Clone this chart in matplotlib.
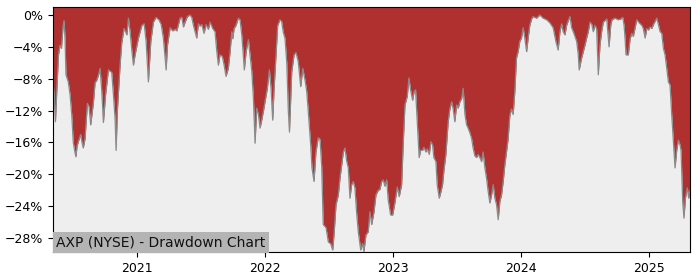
import numpy as np
import pandas as pd
import matplotlib
matplotlib.use("Agg")
import matplotlib.pyplot as plt
import matplotlib.dates as mdates
from matplotlib.ticker import FuncFormatter, MultipleLocator

title = "AXP (NYSE) - Drawdown Chart"

# decimal-year time stamps
t_years = [
 2020.344, 2020.352, 2020.363, 2020.375, 2020.387, 2020.398, 2020.410, 2020.422, 2020.430, 2020.438,
 2020.445, 2020.463, 2020.477, 2020.490, 2020.502, 2020.516, 2020.523, 2020.531, 2020.541, 2020.560,
 2020.570, 2020.580, 2020.594, 2020.612, 2020.625, 2020.638, 2020.659, 2020.672, 2020.685, 2020.699,
 2020.711, 2020.724, 2020.737, 2020.754, 2020.776, 2020.802, 2020.815, 2020.828, 2020.836, 2020.846,
 2020.867, 2020.880, 2020.898, 2020.920, 2020.932, 2020.945, 2020.959, 2020.971, 2020.984, 2021.010,
 2021.037, 2021.055, 2021.070, 2021.088, 2021.107, 2021.127, 2021.148, 2021.170, 2021.188, 2021.205,
 2021.227, 2021.237, 2021.258, 2021.279, 2021.297, 2021.310, 2021.323, 2021.336, 2021.349, 2021.362,
 2021.375, 2021.393, 2021.414, 2021.427, 2021.440, 2021.453, 2021.466, 2021.479, 2021.492, 2021.505,
 2021.523, 2021.539, 2021.557, 2021.570, 2021.591, 2021.609, 2021.623, 2021.635, 2021.648, 2021.666,
 2021.680, 2021.695, 2021.713, 2021.727, 2021.740, 2021.748, 2021.758, 2021.773, 2021.791, 2021.805,
 2021.818, 2021.830, 2021.838, 2021.852, 2021.870, 2021.883, 2021.896, 2021.909, 2021.922, 2021.935,
 2021.948, 2021.961, 2021.974, 2021.987, 2022.000, 2022.018, 2022.034, 2022.047, 2022.060, 2022.070,
 2022.086, 2022.099, 2022.117, 2022.130, 2022.143, 2022.156, 2022.170, 2022.182, 2022.191, 2022.209,
 2022.227, 2022.242, 2022.260, 2022.279, 2022.295, 2022.313, 2022.326, 2022.338, 2022.357, 2022.367,
 2022.383, 2022.398, 2022.416, 2022.430, 2022.443, 2022.455, 2022.477, 2022.495, 2022.513, 2022.529,
 2022.541, 2022.555, 2022.573, 2022.586, 2022.599, 2022.612, 2022.625, 2022.638, 2022.651, 2022.664,
 2022.677, 2022.690, 2022.703, 2022.716, 2022.729, 2022.748, 2022.763, 2022.773, 2022.789, 2022.807,
 2022.820, 2022.834, 2022.852, 2022.867, 2022.885, 2022.898, 2022.912, 2022.924, 2022.938, 2022.951,
 2022.963, 2022.982, 2022.998, 2023.016, 2023.034, 2023.049, 2023.068, 2023.080, 2023.094, 2023.112,
 2023.125, 2023.138, 2023.154, 2023.166, 2023.177, 2023.190, 2023.205, 2023.216, 2023.232, 2023.242,
 2023.258, 2023.268, 2023.284, 2023.297, 2023.310, 2023.320, 2023.336, 2023.346, 2023.362, 2023.375,
 2023.388, 2023.398, 2023.414, 2023.432, 2023.445, 2023.459, 2023.471, 2023.484, 2023.498, 2023.510,
 2023.523, 2023.537, 2023.549, 2023.563, 2023.576, 2023.588, 2023.602, 2023.615, 2023.627, 2023.641,
 2023.654, 2023.666, 2023.680, 2023.693, 2023.705, 2023.719, 2023.732, 2023.745, 2023.758, 2023.771,
 2023.784, 2023.797, 2023.810, 2023.823, 2023.836, 2023.849, 2023.862, 2023.875, 2023.888, 2023.901,
 2023.914, 2023.927, 2023.940, 2023.953, 2023.966, 2023.979, 2023.992, 2024.005, 2024.018, 2024.031,
 2024.045, 2024.057, 2024.070, 2024.084, 2024.096, 2024.123, 2024.148, 2024.174, 2024.201, 2024.227,
 2024.252, 2024.273, 2024.291, 2024.305, 2024.318, 2024.330, 2024.344, 2024.357, 2024.370, 2024.383,
 2024.396, 2024.409, 2024.422, 2024.435, 2024.448, 2024.455, 2024.474, 2024.487, 2024.500, 2024.513,
 2024.526, 2024.539, 2024.552, 2024.565, 2024.578, 2024.591, 2024.604, 2024.617, 2024.630, 2024.643,
 2024.656, 2024.670, 2024.688, 2024.701, 2024.711, 2024.734, 2024.760, 2024.779, 2024.795, 2024.805,
 2024.813, 2024.820, 2024.838, 2024.852, 2024.865, 2024.877, 2024.891, 2024.904, 2024.924, 2024.943,
 2024.955, 2024.969, 2024.982, 2024.995, 2025.008, 2025.021, 2025.034, 2025.047, 2025.060, 2025.073,
 2025.086, 2025.099, 2025.112, 2025.125, 2025.138, 2025.151, 2025.164, 2025.177, 2025.190, 2025.203,
 2025.216, 2025.229, 2025.242, 2025.250, 2025.263, 2025.273, 2025.284, 2025.299, 2025.310, 2025.320,
]

# drawdown in percent
drawdown = [
 -8.2, -10.0, -13.4, -9.0, -5.0, -3.8, -4.2, -1.5, -0.7, -3.0,
 -7.5, -8.4, -10.0, -12.5, -16.0, -17.3, -17.8, -16.5, -15.9, -15.0,
 -16.0, -16.7, -15.5, -11.1, -11.5, -13.8, -11.0, -8.5, -8.2, -7.5,
 -6.7, -9.5, -13.5, -10.0, -6.9, -7.2, -10.0, -13.0, -17.0, -12.0,
 -6.3, -3.5, -1.7, -2.5, -0.4, -2.1, -4.5, -6.3, -5.0, -2.9,
 -1.3, -1.1, -3.3, -8.4, -3.3, -0.9, -0.3, -0.6, -1.2, -2.9,
 -6.9, -3.8, -1.6, -2.0, -1.8, -2.0, -1.2, -0.4, -0.3, -1.5,
 -0.9, -0.2, 0.0, -0.3, -1.3, -2.1, -2.9, -1.1, -1.4, -1.2,
 -2.3, -1.2, -1.8, -0.9, -1.7, -2.1, -4.6, -6.3, -5.0, -5.2,
 -6.3, -7.7, -6.7, -4.6, -2.1, -3.0, -1.7, -1.3, -0.4, -0.6,
 -2.5, -5.0, -6.9, -4.6, -3.1, -5.0, -7.0, -10.4, -16.1, -11.7,
 -12.5, -14.2, -13.2, -12.1, -10.9, -9.2, -6.9, -9.2, -13.2, -9.5,
 -5.0, -1.3, -0.6, -0.8, -2.2, -2.9, -6.0, -12.0, -14.7, -7.1,
 -5.0, -4.7, -5.9, -9.0, -6.7, -8.2, -9.6, -12.1, -16.3, -19.2,
 -20.9, -17.2, -15.4, -15.6, -19.0, -26.3, -26.7, -28.5, -28.7, -29.5,
 -27.2, -23.8, -22.6, -20.5, -18.9, -17.2, -16.7, -18.3, -19.2, -23.0,
 -21.3, -20.9, -21.7, -24.8, -27.2, -29.5, -28.7, -29.7, -27.6, -27.2,
 -24.7, -26.3, -24.7, -22.6, -22.0, -21.9, -20.9, -20.7, -21.5, -20.7,
 -23.2, -25.1, -25.1, -23.5, -21.6, -22.8, -21.3, -16.3, -11.3, -10.2,
 -7.9, -9.4, -10.7, -9.6, -9.4, -13.4, -17.9, -17.0, -17.0, -16.6,
 -17.2, -16.8, -17.5, -15.9, -16.3, -17.9, -18.4, -21.3, -23.0, -22.2,
 -21.3, -19.6, -17.5, -13.4, -11.8, -10.9, -11.8, -13.4, -11.3, -11.7,
 -10.9, -10.5, -9.2, -12.5, -13.8, -14.2, -14.8, -15.5, -16.7, -17.7,
 -17.9, -17.5, -17.9, -18.4, -17.2, -19.2, -20.5, -22.2, -23.6, -22.6,
 -21.3, -23.0, -23.8, -25.7, -23.4, -22.6, -20.9, -18.8, -17.2, -15.5,
 -12.6, -11.8, -12.5, -9.6, -5.4, -4.6, -3.3, -2.9, -1.6, -2.9,
 -4.6, -2.9, -1.3, -0.5, -0.2, -0.4, 0.0, -0.4, -0.6, -1.0,
 -1.6, -3.3, -4.4, -2.1, -1.1, -2.1, -2.5, -1.3, -0.7, -0.2,
 -1.6, -2.1, -2.7, -3.3, -5.0, -6.9, -5.4, -4.6, -3.8, -2.9,
 -2.1, -0.9, -1.1, -2.1, -1.3, -1.7, -7.5, -3.8, -2.1, -0.9,
 -0.7, -0.5, -4.0, -1.3, -0.6, -0.4, -0.6, -0.5, -0.3, -1.3,
 -3.0, -5.0, -5.0, -3.0, -2.3, -2.7, -1.6, -0.6, -1.0, -1.3,
 -1.7, -2.9, -1.7, -1.9, -1.5, -1.7, -1.2, -0.8, -0.4, -1.2,
 -2.1, -2.3, -4.2, -5.0, -6.7, -8.4, -8.8, -12.5, -15.9, -19.2,
 -17.0, -15.7, -16.3, -17.0, -23.5, -25.5, -23.0, -21.7, -23.0, -22.0,
]

y_ticks = [0, -4, -8, -12, -16, -20, -24, -28]


def to_datetime(y):
    yr = int(np.floor(y))
    start = pd.Timestamp(year=yr, month=1, day=1)
    end = pd.Timestamp(year=yr + 1, month=1, day=1)
    return start + (end - start) * (y - yr)


dates = pd.to_datetime([to_datetime(v) for v in t_years])
dd = np.array(drawdown)

fig = plt.figure(figsize=(7, 2.8), dpi=100)
ax = fig.add_axes([53 / 700, 1 - 252 / 280, 637 / 700, 245 / 280])

red = "#b03030"
bg = "#eeeeee"
ytop = 1.0
ybot = dd.min() - 0.05

ax.set_facecolor(bg)
ax.fill_between(dates, dd, ytop, color=red, linewidth=0, zorder=1)
ax.plot(dates, dd, color="#8a8a8a", linewidth=0.9, zorder=2)

ax.set_xlim(dates[0], dates[-1])
ax.set_ylim(ybot, ytop)
ax.set_yticks(y_ticks)
ax.yaxis.set_major_formatter(FuncFormatter(lambda v, p: f"{int(round(v))}%".replace("-", "\u2212")))
ax.xaxis.set_major_locator(mdates.YearLocator())
ax.xaxis.set_major_formatter(mdates.DateFormatter("%Y"))
ax.tick_params(labelsize=9)

ax.text(0.005, 0.012, title, transform=ax.transAxes, fontsize=10, color="#111111",
        ha="left", va="bottom", zorder=5,
        bbox=dict(facecolor="#b4b4b4", edgecolor="none", pad=2.5))

fig.savefig("out.png", dpi=100)
